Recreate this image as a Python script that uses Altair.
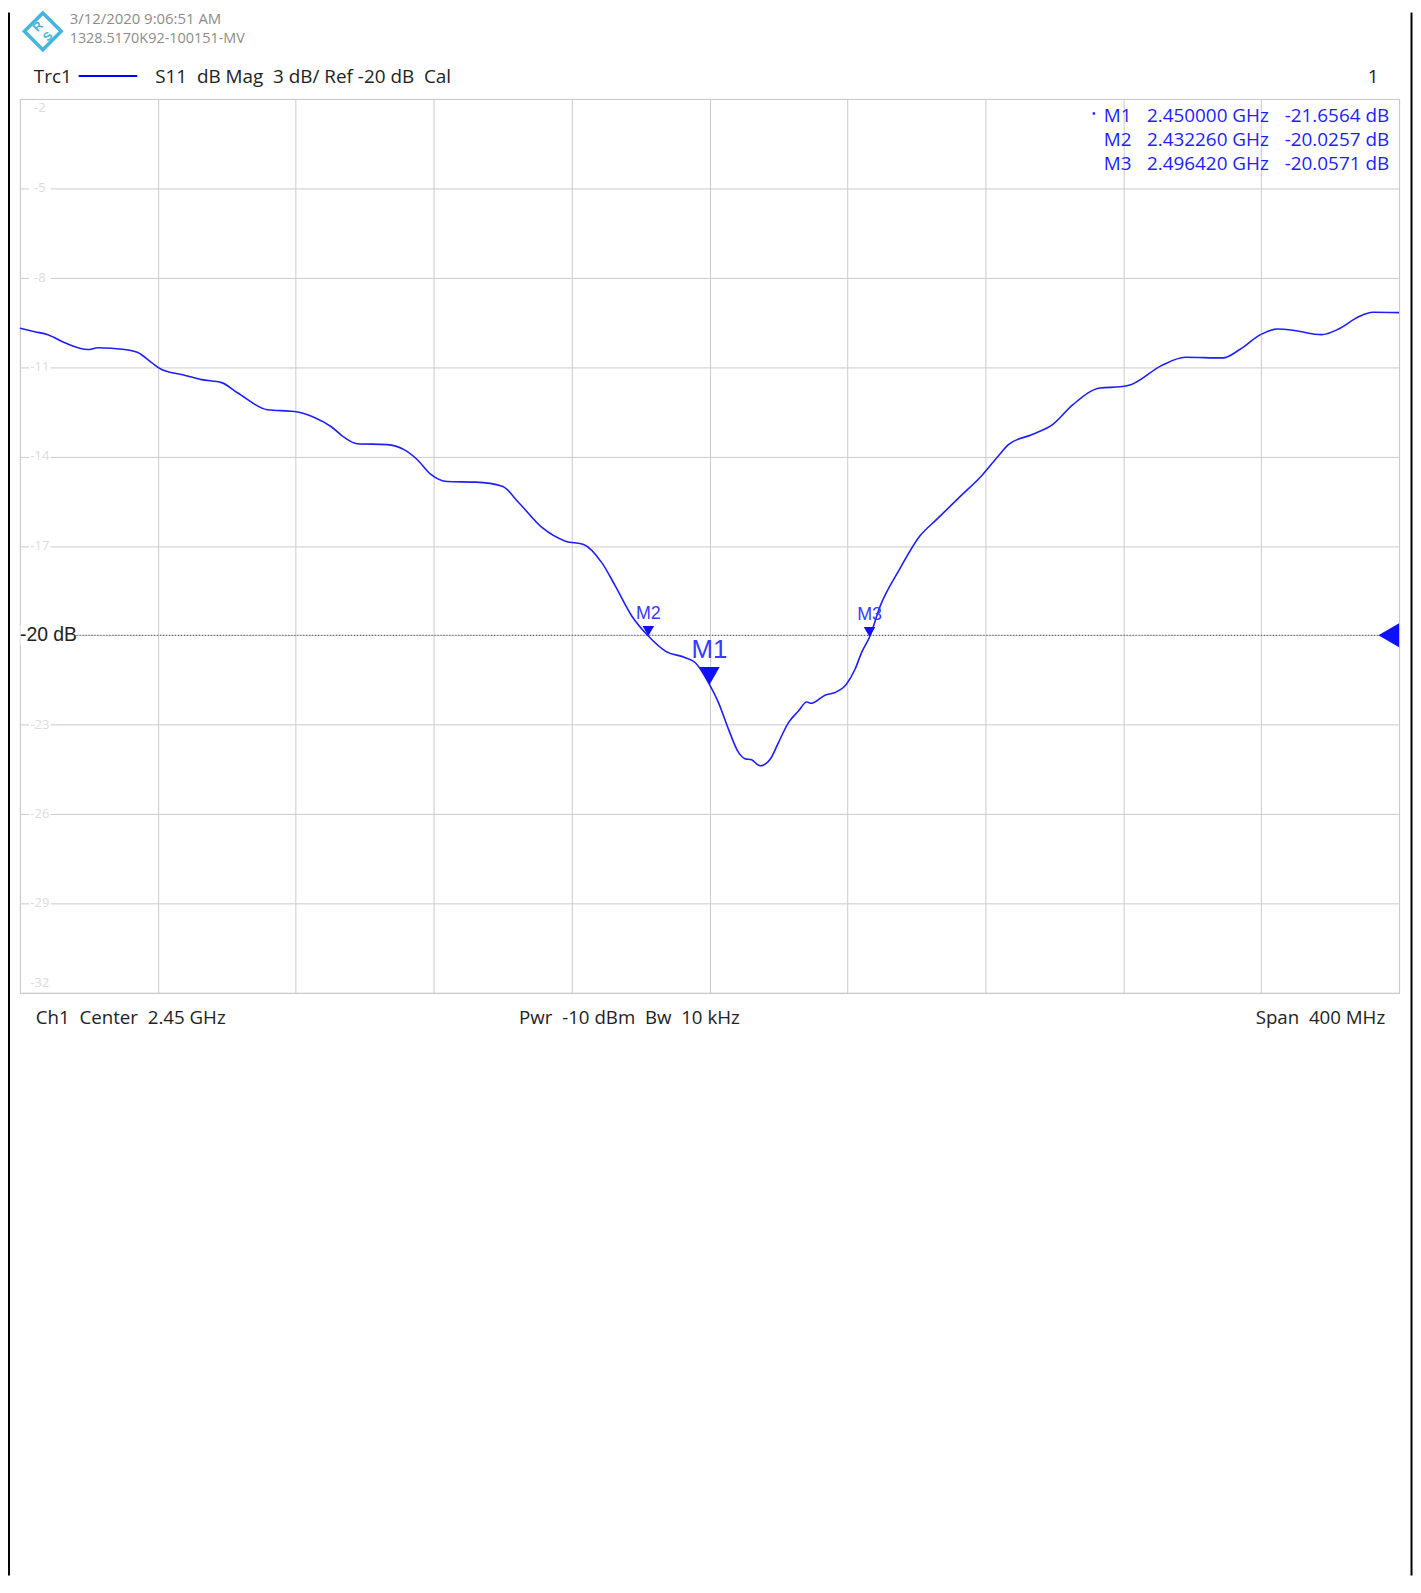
import altair as alt
import pandas as pd

# ---------------- data ----------------
freq_ghz = [2.2500, 2.2543, 2.2581, 2.2630, 2.2697, 2.2726, 2.2804, 2.2842, 2.2882, 2.2911,
            2.2969, 2.3027, 2.3085, 2.3131, 2.3218, 2.3296, 2.3354, 2.3403, 2.3441, 2.3478,
            2.3565, 2.3614, 2.3652, 2.3692, 2.3739, 2.3822, 2.3899, 2.3947, 2.4015, 2.4082,
            2.4135, 2.4188, 2.4227, 2.4275, 2.43226, 2.4372, 2.4430, 2.4459, 2.4500, 2.4526,
            2.4555, 2.4584, 2.4603, 2.4622, 2.4647, 2.4676, 2.4700, 2.4729, 2.4758, 2.4782,
            2.4796, 2.4835, 2.4864, 2.4897, 2.4922, 2.4941, 2.49642, 2.4995, 2.5051, 2.5110,
            2.5159, 2.5228, 2.5288, 2.5337, 2.5367, 2.5436, 2.5495, 2.5554, 2.5633, 2.5692,
            2.5722, 2.5811, 2.5880, 2.5989, 2.6038, 2.6098, 2.6147, 2.6196, 2.6275, 2.6325,
            2.6384, 2.6424, 2.6500]
s11_db = [-9.69, -9.81, -9.91, -10.18, -10.41, -10.35, -10.41, -10.51, -10.85, -11.08,
          -11.25, -11.42, -11.52, -11.86, -12.43, -12.49, -12.69, -13.00, -13.36, -13.57,
          -13.60, -13.77, -14.10, -14.60, -14.84, -14.86, -15.00, -15.55, -16.39, -16.84,
          -16.95, -17.57, -18.35, -19.36, -20.0257, -20.53, -20.75, -20.92, -21.6564, -22.26,
          -23.15, -23.93, -24.14, -24.18, -24.38, -24.16, -23.60, -22.93, -22.54, -22.24,
          -22.28, -22.01, -21.92, -21.64, -21.14, -20.58, -20.0571, -19.02, -17.79, -16.67,
          -16.11, -15.33, -14.66, -13.99, -13.60, -13.26, -12.93, -12.26, -11.70, -11.66,
          -11.59, -10.95, -10.67, -10.69, -10.41, -9.91, -9.72, -9.77, -9.91, -9.72,
          -9.30, -9.16, -9.17]

marker_names = ["M1", "M2", "M3"]
marker_freq = [2.450000, 2.432260, 2.496420]
marker_db = [-21.6564, -20.0257, -20.0571]
marker_freq_text = ["2.450000 GHz", "2.432260 GHz", "2.496420 GHz"]
marker_db_text = ["-21.6564 dB", "-20.0257 dB", "-20.0571 dB"]

x_grid = [2.25, 2.29, 2.33, 2.37, 2.41, 2.45, 2.49, 2.53, 2.57, 2.61, 2.65]
y_grid = [-32, -29, -26, -23, -20, -17, -14, -11, -8, -5, -2]
y_faint_vals = [-29, -26, -23, -17, -14, -11, -8, -5]
y_faint_text = ["-29", "-26", "-23", "-17", "-14", "-11", "-8", "-5"]

ref_level = -20
ref_text = "-20 dB"

NB = "\u00a0"
header_time = "3/12/2020 9:06:51 AM"
header_id = "1328.5170K92-100151-MV"
trace_name = "Trc1"
trace_desc = f"S11{NB}{NB}dB Mag{NB}{NB}3 dB/ Ref -20 dB{NB}{NB}Cal"
footer_left = f"Ch1{NB}{NB}Center{NB}{NB}2.45 GHz"
footer_mid = f"Pwr{NB}{NB}-10 dBm{NB}{NB}Bw{NB}{NB}10 kHz"
footer_right = f"Span{NB}{NB}400 MHz"

# ---------------- styling ----------------
W, H = 1387, 899
PAD_L, PAD_T, PAD_R, PAD_B = 12, 87, 14, 586
BLUE = "#1e1eff"
MBLUE = "#3a3aff"
SANS = "Open Sans"
ARIAL = "Liberation Sans"
FS = 19

xscale = alt.Scale(domain=[2.25, 2.65], nice=False, zero=False)
yscale = alt.Scale(domain=[-32, -2], nice=False, zero=False)
xaxis = alt.Axis(values=x_grid, grid=True, labels=False, ticks=False, domain=False, title=None,
                 gridColor="#cbcbcb", gridWidth=1)
yaxis = alt.Axis(values=y_grid, grid=True, labels=False, ticks=False, domain=False, title=None,
                 gridColor="#cbcbcb", gridWidth=1)


def X(f):
    return alt.X(f, type="quantitative", scale=xscale, axis=xaxis)


def Y(f):
    return alt.Y(f, type="quantitative", scale=yscale, axis=yaxis)


def label(text, x, y, size=FS, color="#222222", align="left", baseline="middle", font=SANS, **kw):
    return alt.Chart(pd.DataFrame({"t": [text]})).mark_text(
        font=font, fontSize=size, color=color, align=align, baseline=baseline, **kw).encode(
        x=alt.value(x), y=alt.value(y), text="t:N")


trace = pd.DataFrame({"f": freq_ghz, "db": s11_db})
markers = pd.DataFrame({"f": marker_freq, "db": marker_db, "name": marker_names,
                        "ft": marker_freq_text, "dt": marker_db_text})
faint = pd.DataFrame({"db": y_faint_vals, "t": y_faint_text})
ref = pd.DataFrame({"f": [2.65], "db": [ref_level], "t": [ref_text]})

layers = []

# grid carrier
layers.append(alt.Chart(trace).mark_line(opacity=0).encode(x=X("f"), y=Y("db")))

# faint y labels with gaps in the grid
layers.append(alt.Chart(faint).mark_rule(color="white", strokeWidth=4).encode(
    y=Y("db"), x=alt.value(9), x2=alt.value(31)))
layers.append(alt.Chart(faint).mark_text(font=SANS, fontSize=13, color="#dcdcdc", align="center",
                                         baseline="middle").encode(
    y=Y("db"), x=alt.value(20), text="t:N"))
layers.append(label("-2", 20, 3, size=13, color="#dcdcdc", align="center", baseline="top"))
layers.append(label("-32", 20, H - 3, size=13, color="#dcdcdc", align="center", baseline="bottom"))

# reference line + label + arrow
layers.append(alt.Chart(ref).mark_rule(color="#444444", strokeDash=[1, 2], strokeWidth=1).encode(
    y=Y("db"), x=alt.value(57), x2=alt.value(W - 20)))
layers.append(alt.Chart(ref).mark_rule(color="white", strokeWidth=20).encode(
    y=Y("db"), x=alt.value(0.5), x2=alt.value(56)))
layers.append(alt.Chart(ref).mark_text(font=ARIAL, fontSize=19.5, color="#222222", align="left",
                                       baseline="middle").encode(
    y=Y("db"), x=alt.value(0), text="t:N"))
layers.append(alt.Chart(ref).mark_point(shape="triangle-left", size=576, filled=True, opacity=1,
                                        color="#1010ff", xOffset=-10.4).encode(x=X("f"), y=Y("db")))

# trace
layers.append(alt.Chart(trace).mark_line(color=BLUE, strokeWidth=1.6, interpolate="monotone").encode(
    x=X("f"), y=Y("db")))

# markers
m1 = markers[markers["name"] == "M1"]
m23 = markers[markers["name"] != "M1"]
layers.append(alt.Chart(m1).mark_point(shape="triangle-down", size=420, filled=True, opacity=1,
                                       color="#1010ff", yOffset=-8.9).encode(x=X("f"), y=Y("db")))
layers.append(alt.Chart(m23).mark_point(shape="triangle-down", size=135, filled=True, opacity=1,
                                        color="#1010ff", yOffset=-5).encode(x=X("f"), y=Y("db")))
layers.append(alt.Chart(m1).mark_text(font=ARIAL, fontSize=26, color=MBLUE, align="center",
                                      baseline="alphabetic", dy=-27).encode(
    x=X("f"), y=Y("db"), text="name:N"))
layers.append(alt.Chart(m23).mark_text(font=ARIAL, fontSize=18, color=MBLUE, align="center",
                                       baseline="alphabetic", dy=-17).encode(
    x=X("f"), y=Y("db"), text="name:N"))

# marker table
row_y = [17.5, 41.5, 65.5]
tbl = markers.assign(ry=row_y)
layers.append(alt.Chart(tbl).mark_text(font=SANS, fontSize=FS, color=BLUE, align="left",
                                       baseline="middle").encode(
    x=alt.value(1090), y=alt.Y("ry:Q", scale=None), text="name:N"))
layers.append(alt.Chart(tbl).mark_text(font=SANS, fontSize=FS, color=BLUE, align="right",
                                       baseline="middle").encode(
    x=alt.value(1256), y=alt.Y("ry:Q", scale=None), text="ft:N"))
layers.append(alt.Chart(tbl).mark_text(font=SANS, fontSize=FS, color=BLUE, align="right",
                                       baseline="middle").encode(
    x=alt.value(1377), y=alt.Y("ry:Q", scale=None), text="dt:N"))
layers.append(label("•", 1080, 15.5, size=12, color=BLUE, align="center"))

# header
layers.append(label(header_time, 50, -80, size=15, color="#8c8c8c"))
layers.append(label(header_id, 50, -60, size=14.5, color="#8c8c8c"))
layers.append(label(trace_name, 14, -22))
layers.append(label(trace_desc, 136, -22))
layers.append(label("1", 1361, -22, align="center"))
layers.append(alt.Chart(pd.DataFrame({"t": [trace_name]})).mark_rule(color="#0000ff", strokeWidth=2).encode(
    x=alt.value(59), x2=alt.value(118), y=alt.value(-23)))

# logo
layers.append(alt.Chart(pd.DataFrame({"t": ["logo"]})).mark_point(
    shape="diamond", size=1369, filled=False, strokeWidth=3.5, color="#45b5e0", opacity=1).encode(
    x=alt.value(23), y=alt.value(-68)))
layers.append(label("R", 18, -73, size=12, color="#45b5e0", align="center", font=ARIAL,
                    fontWeight="bold", angle=315))
layers.append(label("S", 28, -63, size=12, color="#45b5e0", align="center", font=ARIAL,
                    fontWeight="bold", angle=315))

# footer
layers.append(label(footer_left, 16, 924, size=18.8))
layers.append(label(footer_mid, 502, 924, size=18.8))
layers.append(label(footer_right, 1373, 924, size=18.8, align="right"))

# page border (left and right edges)
border = pd.DataFrame({"t": ["b"]})
bottom_rel = 1572 - PAD_T
layers.append(alt.Chart(border).mark_rule(color="black", strokeWidth=2).encode(
    x=alt.value(-11), y=alt.value(-PAD_T), y2=alt.value(bottom_rel)))
layers.append(alt.Chart(border).mark_rule(color="black", strokeWidth=2).encode(
    x=alt.value(1399.5), y=alt.value(-PAD_T), y2=alt.value(bottom_rel)))

chart = alt.layer(*layers).properties(
    width=W, height=H,
    padding={"left": PAD_L, "top": PAD_T, "right": PAD_R, "bottom": PAD_B},
    autosize=alt.AutoSizeParams(type="none"),
    background="white",
).configure_view(stroke="#bdbdbd", strokeWidth=1)

chart.save("out.html", embed_options={"renderer": "svg", "actions": False})
